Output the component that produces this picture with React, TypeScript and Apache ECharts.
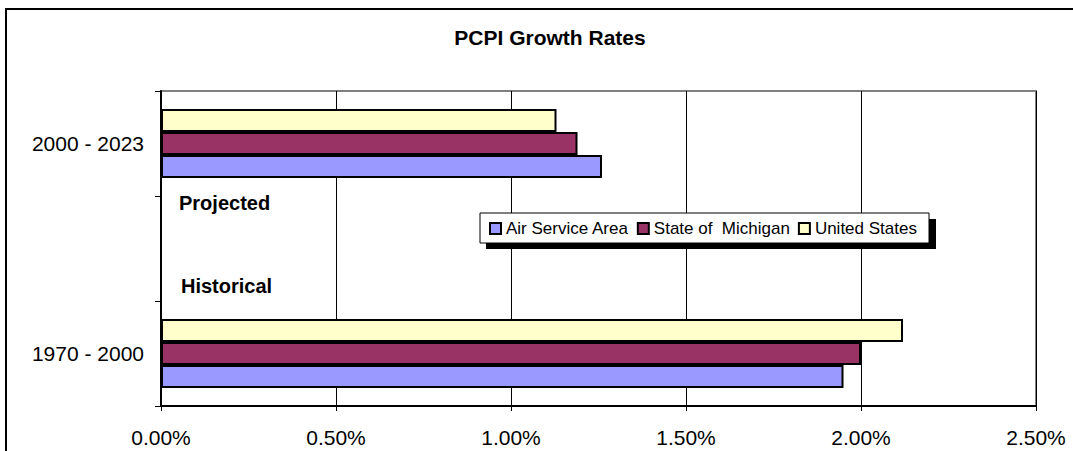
import React, { useEffect, useRef } from "react";
import * as echarts from "echarts";

const categories = ["1970 - 2000", "", "2000 - 2023"];
const seriesNames = ["Air Service Area", "State of  Michigan", "United States"];
const airServiceArea = [1.95, null, 1.26];
const stateOfMichigan = [2.0, null, 1.19];
const unitedStates = [2.12, null, 1.13];
const seriesColors = ["#9999FF", "#993366", "#FFFFCC"];
const xTicks = { min: 0, max: 2.5, interval: 0.5 };

const FONT = "'Liberation Sans', Arial, sans-serif";

export default function App() {
  const ref = useRef<HTMLDivElement>(null);
  useEffect(() => {
    if (!ref.current) return;
    const chart = echarts.init(ref.current, null, { renderer: "svg" });
    const values = [airServiceArea, stateOfMichigan, unitedStates];
    // ECharts stacks the first series at the top of a band; Excel puts it at the bottom.
    const order = [2, 1, 0];
    chart.setOption({
      animation: false,
      backgroundColor: "#fff",
      title: {
        text: "PCPI Growth Rates",
        left: 545,
        textAlign: "center",
        top: 22,
        textStyle: { fontFamily: FONT, fontSize: 21, fontWeight: "bold", color: "#000" },
      },
      grid: {
        left: 161,
        top: 91,
        right: 37,
        bottom: 45,
        show: true,
        borderColor: "#808080",
        borderWidth: 2,
        backgroundColor: "transparent",
      },
      xAxis: {
        type: "value",
        min: xTicks.min,
        max: xTicks.max,
        interval: xTicks.interval,
        axisLine: { show: true, lineStyle: { color: "#000", width: 2 } },
        axisTick: { show: true, length: 5, lineStyle: { color: "#000" } },
        axisLabel: {
          margin: 21,
          fontFamily: FONT,
          fontSize: 21,
          color: "#000",
          formatter: (v: number) => v.toFixed(2) + "%",
        },
        splitLine: { show: true, lineStyle: { color: "#000", width: 1 } },
      },
      yAxis: {
        type: "category",
        data: categories,
        axisLine: { show: true, lineStyle: { color: "#000", width: 2 } },
        axisTick: { show: true, length: 6, lineStyle: { color: "#000" } },
        axisLabel: { margin: 17, fontFamily: FONT, fontSize: 21, color: "#000" },
        splitLine: { show: false },
      },
      legend: {
        data: seriesNames,
        left: 484,
        top: 215,
        itemWidth: 11,
        itemHeight: 11,
        itemGap: 8,
        icon: "rect",
        itemStyle: { borderColor: "#000", borderWidth: 2 },
        textStyle: { fontFamily: FONT, fontSize: 17, color: "#000" },
        z: 10,
      },
      graphic: [
        {
          type: "rect",
          shape: { x: 6, y: 9, width: 1200, height: 600 },
          style: { fill: "none", stroke: "#000", lineWidth: 2 },
          silent: true,
          z: 0,
        },
        {
          type: "rect",
          shape: { x: 486, y: 219, width: 450, height: 30 },
          style: { fill: "#000" },
          z: 5,
        },
        {
          type: "rect",
          shape: { x: 480, y: 213, width: 449, height: 30 },
          style: { fill: "#fff", stroke: "#000", lineWidth: 1 },
          z: 6,
        },
        {
          type: "text",
          x: 179,
          y: 203,
          style: { text: "Projected", fontFamily: FONT, fontSize: 20, fontWeight: "bold", fill: "#000", verticalAlign: "middle" },
          z: 6,
        },
        {
          type: "text",
          x: 181,
          y: 286,
          style: { text: "Historical", fontFamily: FONT, fontSize: 20, fontWeight: "bold", fill: "#000", verticalAlign: "middle" },
          z: 6,
        },
      ],
      series: order.map((i) => ({
        name: seriesNames[i],
        type: "bar",
        data: values[i],
        barWidth: 23,
        barGap: "0%",
        itemStyle: { color: seriesColors[i], borderColor: "#000", borderWidth: 2 },
        z: 3,
      })),
    });
    return () => chart.dispose();
  }, []);
  return (
    <div
      ref={ref}
      style={{ position: "absolute", left: 0, top: 0, width: 1073, height: 451 }}
    />
  );
}
